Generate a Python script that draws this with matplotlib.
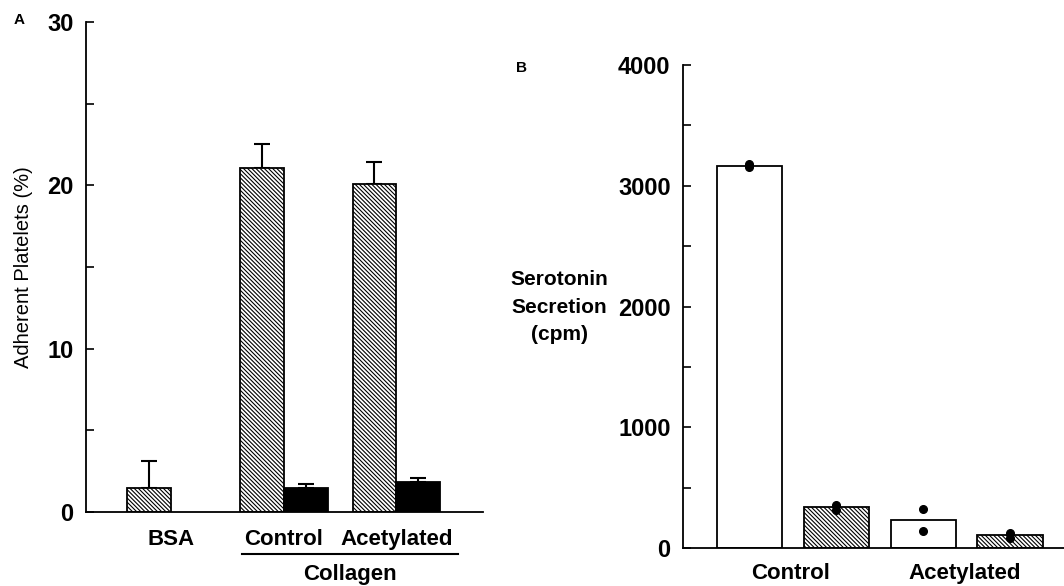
import numpy as np
import matplotlib
matplotlib.use('Agg')
import matplotlib.pyplot as plt
import matplotlib.transforms as mtransforms
from matplotlib.ticker import MultipleLocator

plt.rcParams['font.family'] = ['Liberation Sans', 'DejaVu Sans']
plt.rcParams['hatch.linewidth'] = 0.8

# Panel A: adherent platelets (%)
groups_a = ['BSA', 'Control', 'Acetylated']
adh_hatched = [1.45, 21.05, 20.05]
adh_hatched_err = [1.65, 1.5, 1.4]
adh_black = [0.0, 1.45, 1.85]
adh_black_err = [0.0, 0.28, 0.25]

# Panel B: serotonin secretion (cpm)
sero_bars = [3165, 337, 232, 105]
sero_dots = [[3180, 3155], [360, 315], [323, 138], [124, 83]]
sero_hatched = [False, True, False, True]
groups_b = ['Control', 'Acetylated']

HATCH = '\\' * 8
fig = plt.figure(figsize=(10.64, 5.86), dpi=100)

# ---------- panel A ----------
axA = fig.add_axes([0.0808, 0.1263, 0.3731, 0.8362])
xa = np.arange(len(groups_a))
w = 0.39
axA.bar(xa - w / 2, adh_hatched, w, color='white', edgecolor='black',
        hatch=HATCH, linewidth=1.3, zorder=2)
keep = np.array(adh_black) > 0
axA.bar(xa[keep] + w / 2, np.array(adh_black)[keep], w, color='black',
        edgecolor='black', linewidth=1.3, zorder=2)
axA.errorbar(xa - w / 2, adh_hatched,
             yerr=[np.zeros(len(xa)), adh_hatched_err],
             fmt='none', ecolor='black', elinewidth=1.5, capsize=5.5,
             capthick=1.5, zorder=1)
axA.errorbar(xa[keep] + w / 2, np.array(adh_black)[keep],
             yerr=[np.zeros(keep.sum()), np.array(adh_black_err)[keep]],
             fmt='none', ecolor='black', elinewidth=1.5, capsize=5.5,
             capthick=1.5, zorder=1)

axA.set_xlim(-0.754, 2.767)
axA.set_ylim(0, 30)
axA.yaxis.set_major_locator(MultipleLocator(10))
axA.yaxis.set_minor_locator(MultipleLocator(5))
axA.set_xticks(xa)
axA.set_xticklabels(groups_a, fontsize=16, fontweight='bold')
axA.tick_params(axis='x', length=0, pad=12)
axA.tick_params(axis='y', which='both', direction='in', length=5.5, width=1.2,
                labelsize=17, pad=9)
for lab in axA.get_yticklabels():
    lab.set_fontweight('bold')
for s in ['top', 'right']:
    axA.spines[s].set_visible(False)
for s in ['left', 'bottom']:
    axA.spines[s].set_linewidth(1.3)
axA.set_ylabel('Adherent Platelets (%)', fontsize=14.5, labelpad=10)

trA = mtransforms.blended_transform_factory(axA.transData, axA.transAxes)
axA.plot([0.63, 2.545], [-0.086, -0.086], color='black', lw=1.5,
         transform=trA, clip_on=False)
axA.text(1.59, -0.127, 'Collagen', transform=trA, ha='center', va='center',
         fontsize=16, fontweight='bold')
fig.text(0.013, 0.966, 'A', fontsize=11, fontweight='bold', va='center')

# ---------- panel B ----------
axB = fig.add_axes([0.642, 0.0648, 0.358, 0.8242])
xb = np.arange(len(sero_bars))
wb = 0.75
for i, v in enumerate(sero_bars):
    axB.bar(xb[i], v, wb, color='white', edgecolor='black',
            hatch=HATCH if sero_hatched[i] else None, linewidth=1.3, zorder=2)
    axB.plot([xb[i]] * len(sero_dots[i]), sero_dots[i], 'o', color='black',
             markersize=5.5, zorder=3, clip_on=False)

axB.set_xlim(-0.76, 3.62)
axB.set_ylim(0, 4000)
axB.yaxis.set_major_locator(MultipleLocator(1000))
axB.yaxis.set_minor_locator(MultipleLocator(500))
axB.set_xticks([0.48, 2.48])
axB.set_xticklabels(groups_b, fontsize=16, fontweight='bold')
axB.tick_params(axis='x', length=0, pad=11)
axB.tick_params(axis='y', which='both', direction='in', length=5.5, width=1.2,
                labelsize=17, pad=9)
for lab in axB.get_yticklabels():
    lab.set_fontweight('bold')
for s in ['top', 'right']:
    axB.spines[s].set_visible(False)
for s in ['left', 'bottom']:
    axB.spines[s].set_linewidth(1.3)

fig.text(0.526, 0.476, 'Serotonin\nSecretion\n(cpm)', ha='center', va='center',
         fontsize=15, fontweight='bold', linespacing=1.55)
fig.text(0.485, 0.884, 'B', fontsize=11, fontweight='bold', va='center')

fig.savefig('out.png', dpi=100)
